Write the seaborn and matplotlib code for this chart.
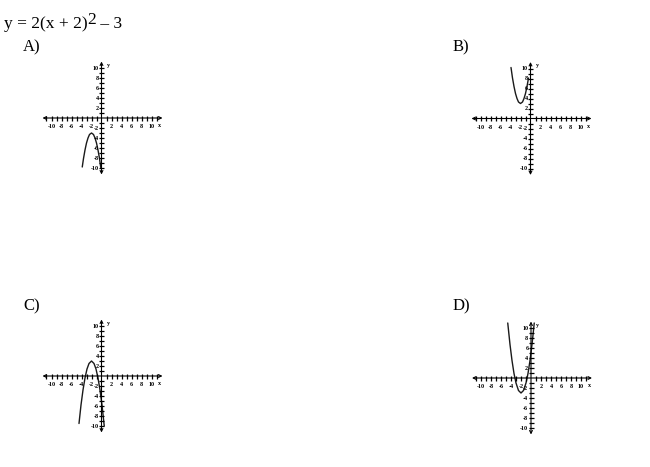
import numpy as np
import pandas as pd
import seaborn as sns
import matplotlib.pyplot as plt

sns.set_style('white')
plt.rcParams['font.family'] = ['Liberation Serif', 'DejaVu Serif']
plt.rcParams['text.color'] = 'black'

# option labels and the curve each small graph shows
options = ['A)', 'B)', 'C)', 'D)']

a_x = [-3.85, -3.6, -3.3, -3.0, -2.7, -2.4, -2.0, -1.6, -1.3, -1.0, -0.7, -0.4, -0.15]
a_y = [-9.8, -8.1, -6.4, -5.0, -4.0, -3.3, -3.0, -3.3, -4.0, -5.0, -6.4, -8.1, -9.9]

b_x = [-3.9, -3.6, -3.3, -3.0, -2.7, -2.4, -2.0, -1.6, -1.3, -1.0, -0.7, -0.4]
b_y = [10.2, 8.1, 6.4, 5.0, 4.0, 3.3, 3.0, 3.3, 4.0, 5.0, 6.4, 8.1]

c_x = [-4.5, -4.1, -3.7, -3.3, -2.9, -2.5, -2.0, -1.5, -1.1, -0.7, -0.3, 0.1, 0.55]
c_y = [-9.5, -5.8, -2.8, -0.4, 1.4, 2.5, 3.0, 2.5, 1.4, -0.4, -2.8, -5.8, -10.0]

d_x = [-4.65, -4.2, -3.8, -3.4, -3.0, -2.5, -2.0, -1.5, -1.0, -0.6, -0.2, 0.2, 0.65]
d_y = [11.0, 6.7, 3.5, 0.9, -1.0, -2.5, -3.0, -2.5, -1.0, 0.9, 3.5, 6.7, 11.0]

tick_labels = [-10, -8, -6, -4, -2, 2, 4, 6, 8, 10]

curves = [(a_x, a_y), (b_x, b_y), (c_x, c_y), (d_x, d_y)]

W, H = 650, 467
fig = plt.figure(figsize=(6.5, 4.67), dpi=100)

# question text: base, full size raised exponent, then the rest
title_size = 12.5
parts = [('y = 2(x + 2)', 0), ('2', 4.5), (' \u2013 3', 0)]
x_px = 4
renderer = fig.canvas.get_renderer()
for s, raise_px in parts:
    t = fig.text(x_px / W, 1 - (28 - raise_px) / H, s, fontsize=title_size, va='baseline')
    x_px += t.get_window_extent(renderer).width

# where each option label and each graph origin sits (pixels from top-left)
label_pos = [(23, 51.5), (453, 51.5), (23, 310), (453, 310)]
origins = [(101.5, 118), (530.5, 118.5), (101.5, 376), (531, 378)]

half = 13
px_per_unit = 5.0
size = 2 * half * px_per_unit

for opt, (lx, ly), (ox, oy), (cx, cy) in zip(options, label_pos, origins, curves):
    fig.text(lx / W, 1 - ly / H, opt, fontsize=12, va='baseline')

    ax = fig.add_axes([(ox - size / 2) / W, 1 - (oy + size / 2) / H, size / W, size / H])

    df = pd.DataFrame({'x': cx, 'y': cy})
    sns.lineplot(data=df, x='x', y='y', sort=False, color='#1a1a1a', lw=1.0, ax=ax)

    # axes with arrow heads at both ends
    ax.annotate('', xy=(12.2, 0), xytext=(-11.8, 0),
                arrowprops=dict(arrowstyle='<->', lw=0.8, color='black',
                                mutation_scale=5, shrinkA=0, shrinkB=0))
    ax.annotate('', xy=(0, 11.3), xytext=(0, -11.3),
                arrowprops=dict(arrowstyle='<->', lw=0.8, color='black',
                                mutation_scale=5, shrinkA=0, shrinkB=0))

    xt = [v for v in range(-11, 12) if v != 0]
    yt = [v for v in range(-10, 11) if v != 0]
    ax.vlines(xt, -0.5, 0.5, color='black', lw=0.9)
    ax.hlines(yt, -0.5, 0.5, color='black', lw=0.9)

    for v in tick_labels:
        ax.text(v, -1.7, str(v), fontsize=4.4, fontweight='bold', ha='center', va='center')
        ax.text(-0.55, v, str(v), fontsize=4.4, fontweight='bold', ha='right', va='center')
    ax.text(11.7, -1.5, 'x', fontsize=4.4, fontweight='bold', ha='center', va='center')
    ax.text(1.3, 10.6, 'y', fontsize=4.4, fontweight='bold', ha='center', va='center')

    ax.set_xlim(-half, half)
    ax.set_ylim(-half, half)
    ax.axis('off')

fig.savefig('out.png', dpi=100)
